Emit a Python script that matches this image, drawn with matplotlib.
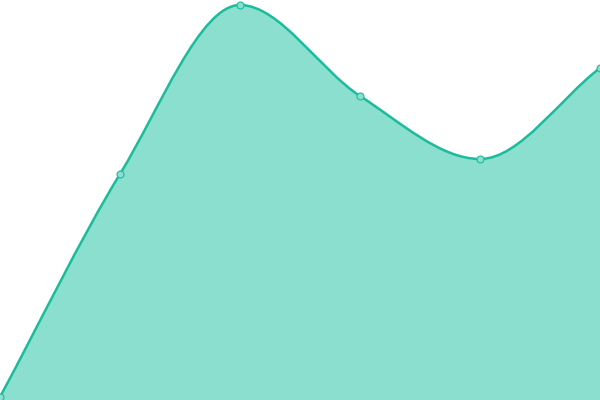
import numpy as np
import matplotlib
matplotlib.use("Agg")
import matplotlib.pyplot as plt
from matplotlib.path import Path
from matplotlib.patches import PathPatch

categories = [0, 1, 2, 3, 4, 5]
values = [3, 226, 395, 304, 241, 332]

LINE = "#1abc9c"
FILL = "#8adfcf"


def monotone_path(xs, ys):
    # monotone cubic interpolation, end slopes = end segment slopes
    xs = np.asarray(xs, float)
    ys = np.asarray(ys, float)
    n = len(xs)
    h = np.diff(xs)
    d = np.diff(ys) / h
    m = np.zeros(n)
    m[0] = d[0]
    m[-1] = d[-1]
    for i in range(1, n - 1):
        if d[i - 1] == 0 or d[i] == 0 or np.sign(d[i - 1]) != np.sign(d[i]):
            m[i] = 0
        else:
            m[i] = (d[i - 1] + d[i]) / 2
    for i in range(n - 1):
        if d[i] == 0:
            m[i] = m[i + 1] = 0
            continue
        a = m[i] / d[i]
        b = m[i + 1] / d[i]
        sq = a * a + b * b
        if sq > 9:
            tau = 3 / np.sqrt(sq)
            m[i] = tau * a * d[i]
            m[i + 1] = tau * b * d[i]
    verts = [(xs[0], ys[0])]
    codes = [Path.MOVETO]
    for i in range(n - 1):
        dx = h[i] / 3
        verts += [(xs[i] + dx, ys[i] + dx * m[i]),
                  (xs[i + 1] - dx, ys[i + 1] - dx * m[i + 1]),
                  (xs[i + 1], ys[i + 1])]
        codes += [Path.CURVE4] * 3
    return verts, codes


fig = plt.figure(figsize=(6, 4), dpi=100)
ax = fig.add_axes([0, 0, 1, 1])
ax.set_xlim(0, 5)
ax.set_ylim(0, 400)
ax.axis("off")

verts, codes = monotone_path(categories, values)

area = verts + [(5, 0), (0, 0), verts[0]]
area_codes = codes + [Path.LINETO, Path.LINETO, Path.CLOSEPOLY]
ax.add_patch(PathPatch(Path(area, area_codes), facecolor=FILL, edgecolor="none"))
ax.add_patch(PathPatch(Path(verts, codes), facecolor="none", edgecolor=LINE,
                       linewidth=1.8, capstyle="round", joinstyle="round"))
ax.plot(categories, values, "o", markersize=5, markerfacecolor=FILL,
        markeredgecolor=LINE, markeredgewidth=0.8, clip_on=False)

fig.savefig("out.png", dpi=100)
